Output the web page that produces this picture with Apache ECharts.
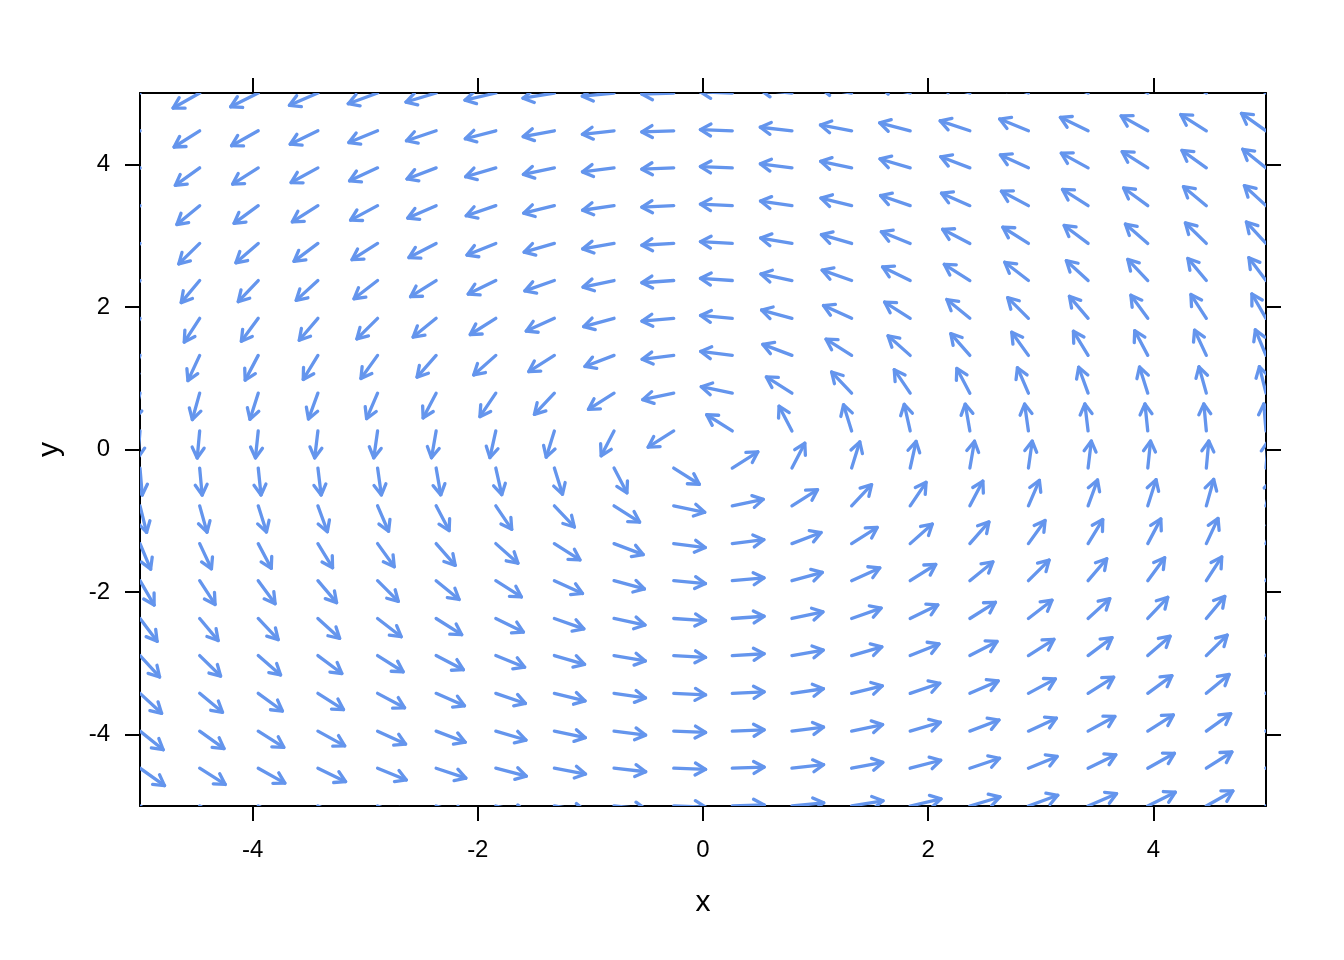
<!DOCTYPE html>
<html>
<head>
<meta charset="utf-8">
<script src="https://cdn.jsdelivr.net/npm/echarts@6/dist/echarts.min.js"></script>
<style>
html,body{margin:0;padding:0;background:#fff;}
#chart{width:1344px;height:960px;}
</style>
</head>
<body>
<div id="chart"></div>
<script>
// Grid positions of the arrows (data units)
const xGrid = [-5, -4.47, -3.95, -3.42, -2.89, -2.37, -1.84, -1.32, -0.79, -0.26, 0.26, 0.79, 1.32, 1.84, 2.37, 2.89, 3.42, 3.95, 4.47, 5];
const yGrid = [-5, -4.47, -3.95, -3.42, -2.89, -2.37, -1.84, -1.32, -0.79, -0.26, 0.26, 0.79, 1.32, 1.84, 2.37, 2.89, 3.42, 3.95, 4.47, 5];

// Horizontal component of the field, one row per yGrid value
const U = [
  [5,5,5,5,5,5,5,5,5,5,5,5,5,5,5,5,5,5,5,5],
  [4.47,4.47,4.47,4.47,4.47,4.47,4.47,4.47,4.47,4.47,4.47,4.47,4.47,4.47,4.47,4.47,4.47,4.47,4.47,4.47],
  [3.95,3.95,3.95,3.95,3.95,3.95,3.95,3.95,3.95,3.95,3.95,3.95,3.95,3.95,3.95,3.95,3.95,3.95,3.95,3.95],
  [3.42,3.42,3.42,3.42,3.42,3.42,3.42,3.42,3.42,3.42,3.42,3.42,3.42,3.42,3.42,3.42,3.42,3.42,3.42,3.42],
  [2.89,2.89,2.89,2.89,2.89,2.89,2.89,2.89,2.89,2.89,2.89,2.89,2.89,2.89,2.89,2.89,2.89,2.89,2.89,2.89],
  [2.37,2.37,2.37,2.37,2.37,2.37,2.37,2.37,2.37,2.37,2.37,2.37,2.37,2.37,2.37,2.37,2.37,2.37,2.37,2.37],
  [1.84,1.84,1.84,1.84,1.84,1.84,1.84,1.84,1.84,1.84,1.84,1.84,1.84,1.84,1.84,1.84,1.84,1.84,1.84,1.84],
  [1.32,1.32,1.32,1.32,1.32,1.32,1.32,1.32,1.32,1.32,1.32,1.32,1.32,1.32,1.32,1.32,1.32,1.32,1.32,1.32],
  [0.79,0.79,0.79,0.79,0.79,0.79,0.79,0.79,0.79,0.79,0.79,0.79,0.79,0.79,0.79,0.79,0.79,0.79,0.79,0.79],
  [0.26,0.26,0.26,0.26,0.26,0.26,0.26,0.26,0.26,0.26,0.26,0.26,0.26,0.26,0.26,0.26,0.26,0.26,0.26,0.26],
  [-0.26,-0.26,-0.26,-0.26,-0.26,-0.26,-0.26,-0.26,-0.26,-0.26,-0.26,-0.26,-0.26,-0.26,-0.26,-0.26,-0.26,-0.26,-0.26,-0.26],
  [-0.79,-0.79,-0.79,-0.79,-0.79,-0.79,-0.79,-0.79,-0.79,-0.79,-0.79,-0.79,-0.79,-0.79,-0.79,-0.79,-0.79,-0.79,-0.79,-0.79],
  [-1.32,-1.32,-1.32,-1.32,-1.32,-1.32,-1.32,-1.32,-1.32,-1.32,-1.32,-1.32,-1.32,-1.32,-1.32,-1.32,-1.32,-1.32,-1.32,-1.32],
  [-1.84,-1.84,-1.84,-1.84,-1.84,-1.84,-1.84,-1.84,-1.84,-1.84,-1.84,-1.84,-1.84,-1.84,-1.84,-1.84,-1.84,-1.84,-1.84,-1.84],
  [-2.37,-2.37,-2.37,-2.37,-2.37,-2.37,-2.37,-2.37,-2.37,-2.37,-2.37,-2.37,-2.37,-2.37,-2.37,-2.37,-2.37,-2.37,-2.37,-2.37],
  [-2.89,-2.89,-2.89,-2.89,-2.89,-2.89,-2.89,-2.89,-2.89,-2.89,-2.89,-2.89,-2.89,-2.89,-2.89,-2.89,-2.89,-2.89,-2.89,-2.89],
  [-3.42,-3.42,-3.42,-3.42,-3.42,-3.42,-3.42,-3.42,-3.42,-3.42,-3.42,-3.42,-3.42,-3.42,-3.42,-3.42,-3.42,-3.42,-3.42,-3.42],
  [-3.95,-3.95,-3.95,-3.95,-3.95,-3.95,-3.95,-3.95,-3.95,-3.95,-3.95,-3.95,-3.95,-3.95,-3.95,-3.95,-3.95,-3.95,-3.95,-3.95],
  [-4.47,-4.47,-4.47,-4.47,-4.47,-4.47,-4.47,-4.47,-4.47,-4.47,-4.47,-4.47,-4.47,-4.47,-4.47,-4.47,-4.47,-4.47,-4.47,-4.47],
  [-5,-5,-5,-5,-5,-5,-5,-5,-5,-5,-5,-5,-5,-5,-5,-5,-5,-5,-5,-5]
];

// Vertical component of the field, one row per yGrid value
const V = [
  [-5,-4.47,-3.95,-3.42,-2.89,-2.37,-1.84,-1.32,-0.79,-0.26,0.26,0.79,1.32,1.84,2.37,2.89,3.42,3.95,4.47,5],
  [-5,-4.47,-3.95,-3.42,-2.89,-2.37,-1.84,-1.32,-0.79,-0.26,0.26,0.79,1.32,1.84,2.37,2.89,3.42,3.95,4.47,5],
  [-5,-4.47,-3.95,-3.42,-2.89,-2.37,-1.84,-1.32,-0.79,-0.26,0.26,0.79,1.32,1.84,2.37,2.89,3.42,3.95,4.47,5],
  [-5,-4.47,-3.95,-3.42,-2.89,-2.37,-1.84,-1.32,-0.79,-0.26,0.26,0.79,1.32,1.84,2.37,2.89,3.42,3.95,4.47,5],
  [-5,-4.47,-3.95,-3.42,-2.89,-2.37,-1.84,-1.32,-0.79,-0.26,0.26,0.79,1.32,1.84,2.37,2.89,3.42,3.95,4.47,5],
  [-5,-4.47,-3.95,-3.42,-2.89,-2.37,-1.84,-1.32,-0.79,-0.26,0.26,0.79,1.32,1.84,2.37,2.89,3.42,3.95,4.47,5],
  [-5,-4.47,-3.95,-3.42,-2.89,-2.37,-1.84,-1.32,-0.79,-0.26,0.26,0.79,1.32,1.84,2.37,2.89,3.42,3.95,4.47,5],
  [-5,-4.47,-3.95,-3.42,-2.89,-2.37,-1.84,-1.32,-0.79,-0.26,0.26,0.79,1.32,1.84,2.37,2.89,3.42,3.95,4.47,5],
  [-5,-4.47,-3.95,-3.42,-2.89,-2.37,-1.84,-1.32,-0.79,-0.26,0.26,0.79,1.32,1.84,2.37,2.89,3.42,3.95,4.47,5],
  [-5,-4.47,-3.95,-3.42,-2.89,-2.37,-1.84,-1.32,-0.79,-0.26,0.26,0.79,1.32,1.84,2.37,2.89,3.42,3.95,4.47,5],
  [-5,-4.47,-3.95,-3.42,-2.89,-2.37,-1.84,-1.32,-0.79,-0.26,0.26,0.79,1.32,1.84,2.37,2.89,3.42,3.95,4.47,5],
  [-5,-4.47,-3.95,-3.42,-2.89,-2.37,-1.84,-1.32,-0.79,-0.26,0.26,0.79,1.32,1.84,2.37,2.89,3.42,3.95,4.47,5],
  [-5,-4.47,-3.95,-3.42,-2.89,-2.37,-1.84,-1.32,-0.79,-0.26,0.26,0.79,1.32,1.84,2.37,2.89,3.42,3.95,4.47,5],
  [-5,-4.47,-3.95,-3.42,-2.89,-2.37,-1.84,-1.32,-0.79,-0.26,0.26,0.79,1.32,1.84,2.37,2.89,3.42,3.95,4.47,5],
  [-5,-4.47,-3.95,-3.42,-2.89,-2.37,-1.84,-1.32,-0.79,-0.26,0.26,0.79,1.32,1.84,2.37,2.89,3.42,3.95,4.47,5],
  [-5,-4.47,-3.95,-3.42,-2.89,-2.37,-1.84,-1.32,-0.79,-0.26,0.26,0.79,1.32,1.84,2.37,2.89,3.42,3.95,4.47,5],
  [-5,-4.47,-3.95,-3.42,-2.89,-2.37,-1.84,-1.32,-0.79,-0.26,0.26,0.79,1.32,1.84,2.37,2.89,3.42,3.95,4.47,5],
  [-5,-4.47,-3.95,-3.42,-2.89,-2.37,-1.84,-1.32,-0.79,-0.26,0.26,0.79,1.32,1.84,2.37,2.89,3.42,3.95,4.47,5],
  [-5,-4.47,-3.95,-3.42,-2.89,-2.37,-1.84,-1.32,-0.79,-0.26,0.26,0.79,1.32,1.84,2.37,2.89,3.42,3.95,4.47,5],
  [-5,-4.47,-3.95,-3.42,-2.89,-2.37,-1.84,-1.32,-0.79,-0.26,0.26,0.79,1.32,1.84,2.37,2.89,3.42,3.95,4.47,5]
];

const xTicks = [-4, -2, 0, 2, 4];
const yTicks = [-4, -2, 0, 2, 4];
const xLabel = 'x';
const yLabel = 'y';

// Build the data table for the library
const arrows = [];
for (let j = 0; j < yGrid.length; j++) {
  for (let i = 0; i < xGrid.length; i++) {
    arrows.push([xGrid[i], yGrid[j], U[j][i], V[j][i]]);
  }
}

const ARROW_COLOR = '#6495ED';
const FONT = '"Liberation Sans", Arial, sans-serif';

function renderArrow(params, api) {
  const x = api.value(0), y = api.value(1), u = api.value(2), v = api.value(3);
  const A = 1.34, K = 0.38;
  const n = Math.sqrt((u * A) * (u * A) + v * v) || 1;
  const dx = u * K / n, dy = v * K / n;
  const p0 = api.coord([x, y]);
  const p1 = api.coord([x + dx, y + dy]);
  const ang = Math.atan2(p1[1] - p0[1], p1[0] - p0[0]);
  const h = 12, a = Math.PI / 6;
  const b1 = [p1[0] - h * Math.cos(ang - a), p1[1] - h * Math.sin(ang - a)];
  const b2 = [p1[0] - h * Math.cos(ang + a), p1[1] - h * Math.sin(ang + a)];
  const style = { stroke: ARROW_COLOR, lineWidth: 3.3, fill: null, lineCap: 'round', lineJoin: 'round' };
  return {
    type: 'group',
    children: [
      { type: 'line', shape: { x1: p0[0], y1: p0[1], x2: p1[0], y2: p1[1] }, style: style },
      { type: 'polyline', shape: { points: [b1, p1, b2] }, style: style }
    ]
  };
}

const chart = echarts.init(document.getElementById('chart'), null, { renderer: 'canvas' });

const axisLineStyle = { show: true, onZero: false, lineStyle: { color: '#000', width: 2 } };
const tickStyle = { show: true, length: 15, inside: false, lineStyle: { color: '#000', width: 2 } };

chart.setOption({
  backgroundColor: '#fff',
  animation: false,
  grid: { left: 140, right: 78, top: 93, bottom: 154, containLabel: false },
  xAxis: [
    {
      type: 'value', min: -5, max: 5, position: 'bottom',
      name: xLabel, nameLocation: 'middle', nameGap: 82,
      nameTextStyle: { color: '#000', fontSize: 30, fontFamily: FONT },
      axisLine: axisLineStyle,
      axisTick: Object.assign({}, tickStyle, { customValues: xTicks }),
      axisLabel: { show: true, customValues: xTicks, color: '#000', fontSize: 24, fontFamily: FONT, margin: 32 },
      splitLine: { show: false }
    },
    {
      type: 'value', min: -5, max: 5, position: 'top',
      axisLine: axisLineStyle,
      axisTick: Object.assign({}, tickStyle, { customValues: xTicks }),
      axisLabel: { show: false },
      splitLine: { show: false }
    }
  ],
  yAxis: [
    {
      type: 'value', min: -5, max: 5, position: 'left',
      name: yLabel, nameLocation: 'middle', nameGap: 75, nameRotate: 90,
      nameTextStyle: { color: '#000', fontSize: 30, fontFamily: FONT },
      axisLine: axisLineStyle,
      axisTick: Object.assign({}, tickStyle, { customValues: yTicks }),
      axisLabel: { show: true, customValues: yTicks, color: '#000', fontSize: 24, fontFamily: FONT, margin: 30 },
      splitLine: { show: false }
    },
    {
      type: 'value', min: -5, max: 5, position: 'right',
      axisLine: axisLineStyle,
      axisTick: Object.assign({}, tickStyle, { customValues: yTicks }),
      axisLabel: { show: false },
      splitLine: { show: false }
    }
  ],
  series: [
    {
      type: 'custom',
      coordinateSystem: 'cartesian2d',
      xAxisIndex: 0,
      yAxisIndex: 0,
      clip: true,
      renderItem: renderArrow,
      encode: { x: 0, y: 1 },
      data: arrows,
      silent: true
    }
  ]
});
</script>
</body>
</html>
